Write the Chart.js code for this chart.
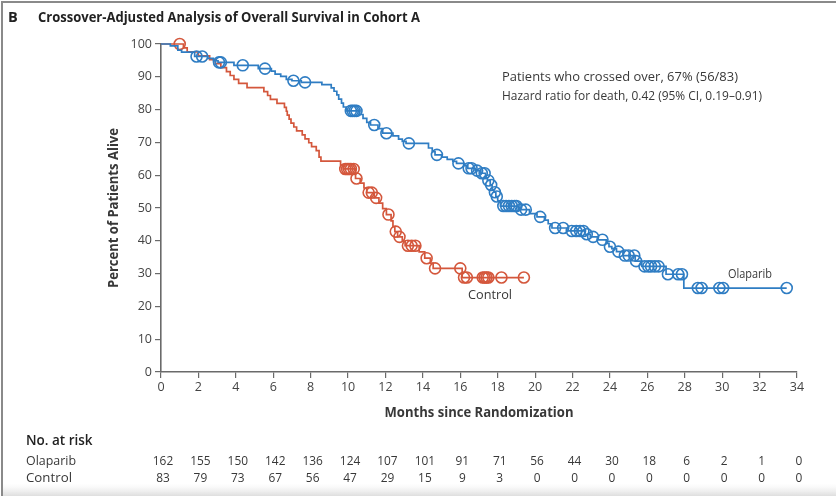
<!DOCTYPE html>
<html>
<head>
<meta charset="utf-8">
<script src="https://cdn.jsdelivr.net/npm/chart.js@4/dist/chart.umd.min.js"></script>
<style>
  html, body { margin: 0; padding: 0; background: #fff; }
  #wrap { position: relative; width: 836px; height: 496px; overflow: hidden; }
  canvas { display: block; }
</style>
</head>
<body>
<div id="wrap"><canvas id="km" width="836" height="496"></canvas></div>
<script>
// Kaplan-Meier steps: event times (months) and survival (%) after each event
const olaparibTimes = [0, 0.5, 0.9, 1.1, 1.8, 2.5, 2.8, 3.05, 3.9, 5.2, 5.9, 6.1, 6.4, 6.7, 7.0, 7.5, 8.6,
  9.1, 9.25, 9.4, 9.5, 9.65, 9.75, 9.9, 10.6, 10.8, 11.0, 11.2, 11.6, 11.85, 12.4, 12.7, 12.9, 13.1,
  14.3, 14.5, 14.65, 15.0, 15.3, 15.6, 15.8, 16.2, 16.4, 16.8, 17.1, 17.35, 17.45, 17.6, 17.7, 17.8,
  17.9, 18.0, 18.15, 19.1, 19.7, 20.1, 20.5, 20.7, 20.9, 21.7, 22.65, 22.95, 23.35, 23.8, 23.95, 24.1,
  24.35, 24.7, 25.35, 25.7, 27.0, 27.95];
const olaparibSurv = [100, 99.4, 98.1, 97.5, 96.2, 95.6, 94.9, 94.4, 93.5, 92.5, 91.7, 90.8, 90.1, 89.2, 88.8, 88.3, 87.6,
  86.6, 85.6, 84.5, 83.2, 82.0, 80.8, 79.6, 78.5, 77.3, 76.1, 75.3, 74.2, 72.8, 72.0, 71.0, 70.3, 69.7,
  68.3, 67.2, 66.2, 65.5, 64.8, 64.2, 63.6, 62.9, 62.1, 61.4, 60.6, 59.2, 58.4, 57.0, 55.6, 54.8,
  53.5, 52.2, 50.6, 49.5, 48.3, 47.3, 46.3, 45.2, 43.9, 43.0, 42.0, 41.2, 40.3, 39.2, 38.2, 37.6,
  36.7, 35.5, 33.8, 32.2, 29.8, 25.6];
const olaparibCensored = [1.9, 2.2, 3.1, 3.2, 4.37, 5.56, 7.08, 7.7, 10.15, 10.25, 10.35, 10.45, 11.4, 12.05,
  13.25, 14.75, 15.9, 16.45, 16.6, 16.9, 17.15, 17.3, 17.5, 17.65, 17.85, 17.95, 18.3, 18.45, 18.6, 18.75,
  18.9, 19.0, 19.25, 19.5, 20.27, 21.07, 21.5, 21.96, 22.2, 22.4, 22.58, 22.76, 23.1, 23.6, 24.0, 24.45,
  24.8, 25.0, 25.3, 25.4, 25.85, 26.05, 26.2, 26.4, 26.6, 27.1, 27.65, 27.85, 28.7, 28.9, 29.85, 30.05, 33.45];

const controlTimes = [0, 1.2, 1.4, 2.0, 2.6, 2.9, 3.2, 3.5, 3.7, 3.9, 4.15, 4.6, 5.5, 5.7, 5.85, 6.2, 6.6,
  6.7, 6.75, 6.85, 6.95, 7.1, 7.25, 7.55, 7.7, 7.9, 8.05, 8.3, 8.45, 8.55, 9.6, 9.75, 10.4, 10.65, 10.85,
  11.0, 11.4, 11.65, 11.85, 12.05, 12.3, 12.4, 12.5, 12.65, 12.9, 13.05, 13.8, 14.1, 14.4, 14.55, 16.1];
const controlSurv = [100, 98.8, 97.6, 96.4, 95.2, 94.0, 92.8, 91.6, 90.4, 89.2, 88.0, 86.7, 85.5, 84.3, 83.1, 81.9, 80.7,
  79.5, 78.3, 77.1, 75.9, 74.7, 73.5, 72.3, 71.1, 69.9, 68.7, 67.5, 65.5, 64.3, 63.1, 61.9, 59.0, 57.6, 56.1,
  54.7, 53.1, 51.5, 49.8, 48.0, 46.1, 44.3, 42.8, 41.2, 39.9, 38.5, 36.6, 34.7, 33.2, 31.6, 28.8];
const controlCensored = [1.0, 9.85, 9.95, 10.05, 10.15, 10.3, 10.45, 11.1, 11.27, 11.5, 12.16, 12.55, 12.75,
  13.2, 13.4, 13.6, 14.2, 14.65, 16.0, 16.2, 16.35, 17.2, 17.3, 17.4, 17.5, 18.2, 19.4];

const monthTicks = [0, 2, 4, 6, 8, 10, 12, 14, 16, 18, 20, 22, 24, 26, 28, 30, 32, 34];
const riskOlaparib = [162, 155, 150, 142, 136, 124, 107, 101, 91, 71, 56, 44, 30, 18, 6, 2, 1, 0];
const riskControl = [83, 79, 73, 67, 56, 47, 29, 15, 9, 3, 0, 0, 0, 0, 0, 0, 0, 0];

const BLUE = '#2f7dc3';
const RED = '#d4573c';
const TEXT = '#383838';
const FONT = '"Open Sans", "Noto Sans", sans-serif';

// survival value in effect at time t
function survivalAt(times, surv, t) {
  let v = surv[0];
  for (let i = 0; i < times.length; i++) { if (times[i] <= t) v = surv[i]; }
  return v;
}
function curvePoints(times, surv, censored) {
  const pts = times.map((t, i) => ({ x: t, y: surv[i] }));
  const end = Math.max(...censored);
  if (end > times[times.length - 1]) pts.push({ x: end, y: surv[surv.length - 1] });
  return pts;
}
function censorPoints(times, surv, censored) {
  return censored.map(t => ({ x: t, y: survivalAt(times, surv, t) }));
}

// text helper; an optional width squeezes the run to a narrower face
function txt(ctx, s, x, y, opts) {
  ctx.save();
  ctx.font = opts.font;
  ctx.fillStyle = opts.color || TEXT;
  ctx.textAlign = opts.align || 'left';
  ctx.textBaseline = 'middle';
  if (opts.width) ctx.fillText(s, x, y, opts.width); else ctx.fillText(s, x, y);
  ctx.restore();
}

const decorations = {
  id: 'decorations',
  afterDraw(chart) {
    const ctx = chart.ctx;
    const xs = chart.scales.x;
    const area = chart.chartArea;

    // panel frame
    ctx.save();
    ctx.strokeStyle = '#8a8a8a';
    ctx.lineWidth = 2;
    ctx.beginPath();
    ctx.moveTo(2, 496); ctx.lineTo(2, 2); ctx.lineTo(836, 2);
    ctx.stroke();
    const g = ctx.createLinearGradient(0, 484, 0, 496);
    g.addColorStop(0, 'rgba(235,235,235,0)');
    g.addColorStop(1, 'rgba(222,222,222,1)');
    ctx.fillStyle = g;
    ctx.fillRect(3, 484, 833, 12);
    ctx.restore();

    // panel title
    txt(ctx, 'B', 8, 18, { font: 'bold 14.5px ' + FONT, color: '#222' });
    txt(ctx, 'Crossover-Adjusted Analysis of Overall Survival in Cohort A', 38, 18,
      { font: 'bold 14.5px ' + FONT, color: '#222', width: 382 });

    // statistics note
    txt(ctx, 'Patients who crossed over, 67% (56/83)', 502, 77, { font: '13.5px ' + FONT, width: 236 });
    txt(ctx, 'Hazard ratio for death, 0.42 (95% CI, 0.19\u20130.91)', 502, 96, { font: '13.5px ' + FONT, width: 260 });

    // curve labels
    txt(ctx, 'Control', 490, 295, { font: '13.5px ' + FONT, align: 'center', width: 44 });
    txt(ctx, 'Olaparib', 750, 274, { font: '13.5px ' + FONT, align: 'center', width: 44 });

    // axis titles
    txt(ctx, 'Months since Randomization', (area.left + area.right) / 2, 413,
      { font: 'bold 13.5px ' + FONT, align: 'center', width: 189 });
    ctx.save();
    ctx.translate(114, 208);
    ctx.rotate(-Math.PI / 2);
    txt(ctx, 'Percent of Patients Alive', 0, 0, { font: 'bold 13.5px ' + FONT, align: 'center', width: 160 });
    ctx.restore();

    // numbers at risk
    txt(ctx, 'No. at risk', 26, 441, { font: '600 13.5px ' + FONT, color: '#222', width: 68 });
    txt(ctx, 'Olaparib', 26, 461, { font: '13.5px ' + FONT, width: 50 });
    txt(ctx, 'Control', 26, 478, { font: '13.5px ' + FONT, width: 46 });
    monthTicks.forEach((m, i) => {
      const x = xs.getPixelForValue(m) + 2;
      const a = String(riskOlaparib[i]), b = String(riskControl[i]);
      txt(ctx, a, x, 461, { font: '13px ' + FONT, align: 'center', width: a.length * 6.8 });
      txt(ctx, b, x, 478, { font: '13px ' + FONT, align: 'center', width: b.length * 6.8 });
    });
  }
};

const censorStyle = (color) => ({
  type: 'scatter',
  showLine: false,
  pointStyle: 'circle',
  pointRadius: 5.5,
  pointHoverRadius: 5.5,
  pointBorderWidth: 1.6,
  pointBackgroundColor: 'rgba(255,255,255,0)',
  pointBorderColor: color,
  borderColor: color,
  clip: false
});

new Chart(document.getElementById('km'), {
  type: 'line',
  data: {
    datasets: [
      {
        label: 'Olaparib',
        data: curvePoints(olaparibTimes, olaparibSurv, olaparibCensored),
        stepped: 'before', borderColor: BLUE, borderWidth: 1.7, pointRadius: 0, fill: false, clip: false
      },
      Object.assign({ label: 'Olaparib censored', data: censorPoints(olaparibTimes, olaparibSurv, olaparibCensored) }, censorStyle(BLUE)),
      {
        label: 'Control',
        data: curvePoints(controlTimes, controlSurv, controlCensored),
        stepped: 'before', borderColor: RED, borderWidth: 1.7, pointRadius: 0, fill: false, clip: false
      },
      Object.assign({ label: 'Control censored', data: censorPoints(controlTimes, controlSurv, controlCensored) }, censorStyle(RED))
    ]
  },
  options: {
    responsive: false,
    animation: false,
    devicePixelRatio: 1,
    layout: { padding: { left: 0, top: 44, right: 39, bottom: 0 } },
    plugins: { legend: { display: false }, tooltip: { enabled: false }, title: { display: false } },
    scales: {
      x: {
        type: 'linear', min: 0, max: 34,
        afterBuildTicks(s) { s.ticks = monthTicks.map(v => ({ value: v })); },
        ticks: { color: '#444', font: { family: FONT, size: 12.5 }, padding: 2, maxRotation: 0, autoSkip: false },
        grid: { drawOnChartArea: false, drawTicks: true, tickLength: 6, color: '#6a6a6a', lineWidth: 1.2 },
        border: { color: '#6a6a6a', width: 1.6 },
        afterFit(s) { s.height = 124; }
      },
      y: {
        type: 'linear', min: 0, max: 100,
        ticks: { stepSize: 10, color: '#444', font: { family: FONT, size: 12.5 }, padding: 3 },
        grid: { drawOnChartArea: false, drawTicks: true, tickLength: 6, color: '#6a6a6a', lineWidth: 1.2 },
        border: { color: '#6a6a6a', width: 1.6 },
        afterFit(s) { s.width = 161; }
      }
    }
  },
  plugins: [decorations]
});
</script>
</body>
</html>
